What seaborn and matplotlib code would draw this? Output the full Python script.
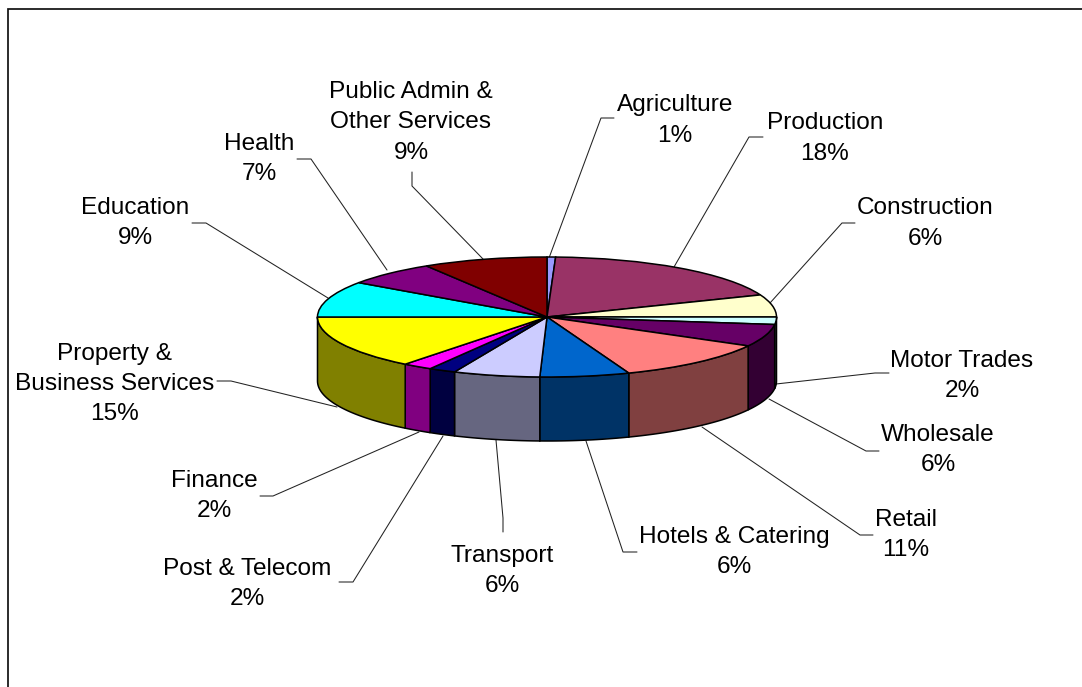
import numpy as np
import seaborn as sns
import matplotlib.pyplot as plt
from matplotlib.colors import to_rgb

sectors = ["Agriculture", "Production", "Construction", "Motor Trades", "Wholesale",
           "Retail", "Hotels & Catering", "Transport", "Post & Telecom", "Finance",
           "Property &\nBusiness Services", "Education", "Health",
           "Public Admin &\nOther Services"]
shares = [0.6, 18.4, 6.0, 2.0, 6.0, 11.2, 6.3, 6.1, 1.9, 2.1, 14.4, 9.7, 6.5, 8.8]
pct_labels = ["1%", "18%", "6%", "2%", "6%", "11%", "6%", "6%", "2%", "2%", "15%", "9%", "7%", "9%"]
top_colors = ["#9999FF", "#993366", "#FFFFCC", "#CCFFFF", "#660066", "#FF8080", "#0066CC",
              "#CCCCFF", "#000080", "#FF00FF", "#FFFF00", "#00FFFF", "#800080", "#800000"]

# layout, all in pixels of the 1082x687 picture
W, H = 1082, 687
CX, CY, RX, RY, DEPTH = 547, 317, 229.5, 60, 64
label_pos = [(675, 120.5), (825, 138.5), (925, 223.5), (962, 376), (938, 450), (906, 535), (734, 552),
             (502, 571), (247, 584), (214, 496), (115, 384), (135, 223), (259, 159), (411, 122.5)]
leaders = [[(614, 118), (601, 118), (549, 258)],
           [(763, 137), (749, 137), (674, 267)],
           [(855, 223), (842, 223), (770, 303)],
           [(889, 373), (875, 373), (776, 384)],
           [(879, 451), (866, 451), (769, 399)],
           [(873, 535), (860, 535), (702, 427)],
           [(637, 552), (623, 552), (586, 441)],
           [(503, 532), (503, 518), (496, 440)],
           [(339, 582), (353, 582), (443, 436)],
           [(260, 496), (273, 496), (419, 432)],
           [(217, 381), (231, 381), (337, 407)],
           [(192, 223), (206, 223), (328, 298)],
           [(297, 159), (311, 159), (387, 270)],
           [(412, 172), (412, 186), (483, 259)]]


def to_data(px, py):
    return (np.asarray(px) - CX) / RX, (CY - np.asarray(py)) / RY


sns.set_theme(style="white")
plt.rcParams['font.family'] = ['Liberation Sans', 'DejaVu Sans']

fig = plt.figure(figsize=(W / 100, H / 100), dpi=100)
ax = fig.add_axes([0, 0, 1, 1])

palette = sns.color_palette(top_colors)
ax.pie(shares, colors=palette, startangle=90, counterclock=False, radius=1,
       wedgeprops=dict(edgecolor='black', linewidth=1.1, zorder=3))
ax.set_aspect('auto')
x0, y1 = to_data(0, 0)
x1, y0 = to_data(W, H)
ax.set_xlim(x0, x1)
ax.set_ylim(y0, y1)

# side wall of the pie, only the front half shows
edges = np.concatenate([[0], np.cumsum(shares)]) / np.sum(shares) * 360
drop = DEPTH / RY
for i, col in enumerate(palette):
    a = max(edges[i], 90)
    b = min(edges[i + 1], 270)
    if a >= b:
        continue
    t = np.radians(np.linspace(a, b, 60))
    xs = np.sin(t)
    ys = np.cos(t)
    ax.fill(np.concatenate([xs, xs[::-1]]), np.concatenate([ys, ys[::-1] - drop]),
            color=tuple(c * 0.5 for c in to_rgb(col)), ec='black', lw=1.1, zorder=2)

for pts in leaders:
    px, py = zip(*pts)
    lx, ly = to_data(px, py)
    ax.plot(lx, ly, color='#222222', lw=0.75, zorder=1, solid_joinstyle='miter')

for name, pct, (px, py) in zip(sectors, pct_labels, label_pos):
    lx, ly = to_data(px, py)
    ax.text(lx, ly, name + "\n" + pct, ha='center', va='center', ma='center',
            fontsize=17.6, color='black', linespacing=1.48, zorder=5)

# chart border, right and bottom sides fall outside the picture
fx, fy = to_data([8, 8, W], [H, 9.5, 9.5])
ax.plot(fx, fy, color='#111111', lw=1.25, zorder=1, solid_joinstyle='miter')

plt.savefig('out.png', dpi=100)
